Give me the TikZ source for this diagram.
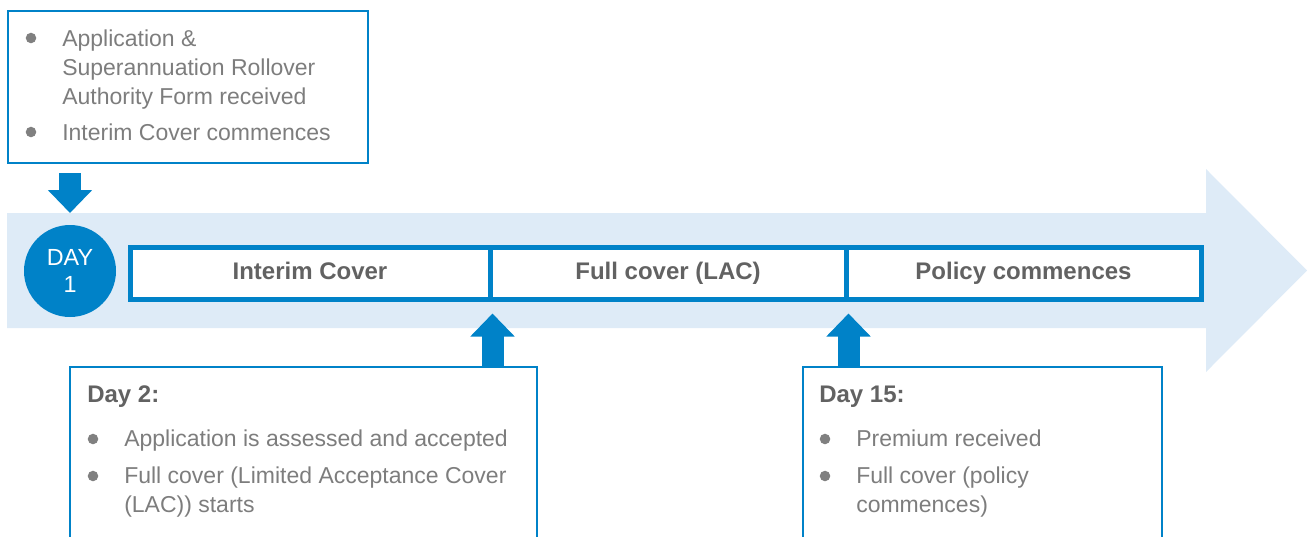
\documentclass[tikz,border=0pt]{standalone}
\usepackage{fontspec}
\setmainfont{Liberation Sans}
\usetikzlibrary{arrows.meta}
\definecolor{brand}{RGB}{0,130,200}
\definecolor{bandfill}{RGB}{222,235,247}
\definecolor{bodytext}{RGB}{125,125,125}
\definecolor{headtext}{RGB}{98,98,98}
\definecolor{dotgrey}{RGB}{128,128,128}
\begin{document}
\begin{tikzpicture}[x=0.75pt,y=-0.75pt,
  bodyline/.style={font=\fontsize{17.25}{21.75}\selectfont, text=bodytext, anchor=base west, inner sep=0pt},
  heading/.style={font=\fontsize{18}{22}\selectfont\bfseries, text=headtext, anchor=base west, inner sep=0pt},
  bulletdot/.style={circle, fill=dotgrey, inner sep=0pt, minimum size=7.9pt},
  card/.style={draw=brand, line width=1.5pt, inner sep=0pt},
  segment/.style={draw=brand, line width=3.75pt, fill=white, minimum height=39pt, inner sep=0pt,
    text height=8.25pt, text depth=0pt, font=\fontsize{18}{22}\selectfont\bfseries, text=headtext},
  blockarrow/.style={draw=brand, line width=16.5pt, -{Triangle[length=17.25pt,width=32.25pt,fill=brand]}}
]
\useasboundingbox (0,0) rectangle (1308,536);
\clip (0,0) rectangle (1308,536);

% timeline band with arrow head
\fill[bandfill] (7,213) -- (1206,213) -- (1206,169) -- (1307,270.5) -- (1206,372) -- (1206,328) -- (7,328) -- cycle;
\coordinate (bandtop) at (0,213);

% day one marker
\node[circle, fill=brand, minimum size=69pt, inner sep=0pt, text=white, align=center,
  font=\fontsize{17.5}{19.7}\selectfont] (day1) at (70,271) {DAY\\1};

% timeline segments
\node[segment, minimum width=270pt] (seg1) at (310,273.5) {Interim Cover};
\node[segment, minimum width=267pt] (seg2) at (668,273.5) {Full cover (LAC)};
\node[segment, minimum width=266.25pt] (seg3) at (1023.5,273.5) {Policy commences};

% application card
\node[card, minimum width=270pt, minimum height=114pt] (app) at (188,87) {};
\node[bulletdot] (appd1) at (31,38) {};
\node[bodyline] (appl1) at (62,46) {Application \&};
\node[bodyline] (appl2) at (62,75) {Superannuation Rollover};
\node[bodyline] (appl3) at (62,104) {Authority Form received};
\node[bulletdot] (appd2) at (31,132) {};
\node[bodyline] (appl4) at (62,140) {Interim Cover commences};

% day 2 card
\node[card, minimum width=350.25pt, minimum height=150pt] (day2) at (303.5,467) {};
\node[heading] (day2h) at (87,402) {Day 2:};
\node[bulletdot] (day2d1) at (93,439) {};
\node[bodyline] (day2l1) at (124,446) {Application is assessed and accepted};
\node[bulletdot] (day2d2) at (93,476) {};
\node[bodyline] (day2l2) at (124,483) {Full cover (Limited Acceptance Cover};
\node[bodyline] (day2l3) at (124,512) {(LAC)) starts};

% day 15 card
\node[card, minimum width=269.25pt, minimum height=150pt] (day15) at (982.5,467) {};
\node[heading] (day15h) at (819,402) {Day 15:};
\node[bulletdot] (day15d1) at (825,439) {};
\node[bodyline] (day15l1) at (856,446) {Premium received};
\node[bulletdot] (day15d2) at (825,476) {};
\node[bodyline] (day15l2) at (856,483) {Full cover (policy};
\node[bodyline] (day15l3) at (856,512) {commences)};

% block arrows
\draw[blockarrow] ([yshift=-6.75pt]app.south -| day1.north) -- (day1.north |- bandtop);
\draw[blockarrow] (seg1.south east |- day2.north) -- ([yshift=-8.625pt]seg1.south east);
\draw[blockarrow] (seg2.south east |- day15.north) -- ([yshift=-8.625pt]seg2.south east);
\end{tikzpicture}
\end{document}
